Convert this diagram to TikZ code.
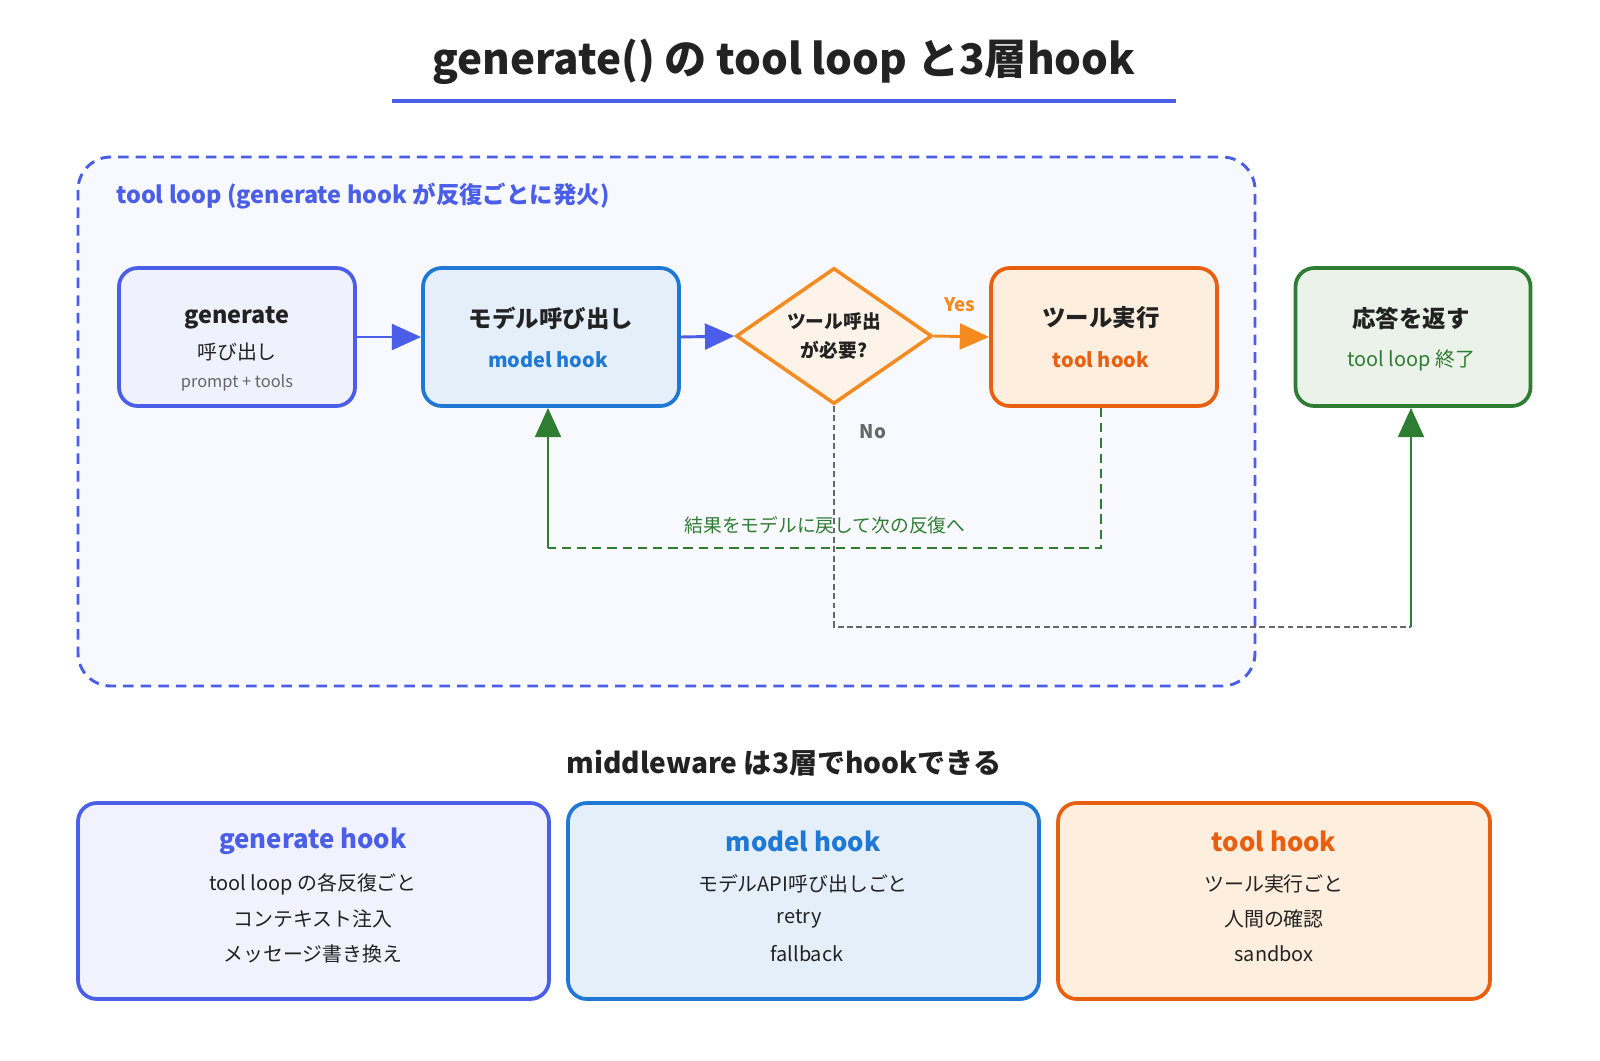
\documentclass[tikz,border=0pt]{standalone}
\usepackage{fontspec}
\setmainfont{Noto Sans CJK JP}
\usetikzlibrary{arrows.meta,shapes.geometric}
\definecolor{cblue}{HTML}{4A5EE8}
\definecolor{cmblue}{HTML}{1E78D4}
\definecolor{corange}{HTML}{F58B1F}
\definecolor{ctool}{HTML}{E8600F}
\definecolor{cgreen}{HTML}{2E7D32}
\definecolor{cdark}{HTML}{222222}
\definecolor{cgray}{HTML}{666666}
\tikzset{
 box/.style={draw,line width=3.2pt,rounded corners=16pt,align=center},
 big/.style={font=\fontsize{20}{24}\selectfont\bfseries,text=cdark},
 sub/.style={font=\fontsize{17}{20}\selectfont},
 small/.style={font=\fontsize{14}{17}\selectfont},
 arr/.style={line width=2.5pt,-{Triangle[length=25pt,width=22pt]}},
}
\begin{document}
\begin{tikzpicture}[x=0.03cm,y=-0.03cm]
\useasboundingbox (0,0) rectangle (1600,1060);
% title
\node[font=\fontsize{36}{40}\selectfont\bfseries,text=cdark] (title) at (784,62) {generate() の tool loop と3層hook};
\draw[cblue,line width=4pt] (392,101) -- (1176,101);
% container
\draw[cblue,dashed,line width=2.5pt,dash pattern=on 9pt off 6pt,fill=cblue!4,rounded corners=28pt] (78,157) rectangle (1255,686);
\node[anchor=west,text=cblue,font=\fontsize{20}{24}\selectfont\bfseries] (lbl) at (112,196) {tool loop (generate hook が反復ごとに発火)};
% nodes
\node[box,draw=cblue,fill=cblue!9,minimum width=236*0.03cm,minimum height=138*0.03cm] (gen) at (237,337) {};
\node[big] at (237,318) {generate};
\node[sub,text=cdark] at (237,352) {呼び出し};
\node[small,text=cgray] at (237,383) {prompt + tools};
\node[box,draw=cmblue,fill=cmblue!12,minimum width=256*0.03cm,minimum height=138*0.03cm] (model) at (551,337) {};
\node[big] at (551,318) {モデル呼び出し};
\node[sub,text=cmblue,font=\fontsize{17}{20}\selectfont\bfseries] at (548,360) {model hook};
\node[diamond,draw=corange,line width=3pt,fill=corange!10,minimum width=196*0.03cm,minimum height=136*0.03cm,inner sep=0pt,aspect=1.44] (dec) at (834,336) {};
\node[align=center,font=\fontsize{16}{24}\selectfont\bfseries,text=cdark] at (834,336) {ツール呼出\\が必要?};
\node[box,draw=ctool,fill=corange!15,minimum width=226*0.03cm,minimum height=138*0.03cm] (tool) at (1104,337) {};
\node[big] at (1101,318) {ツール実行};
\node[text=ctool,font=\fontsize{17}{20}\selectfont\bfseries] at (1101,360) {tool hook};
\node[box,draw=cgreen,fill=cgreen!10,minimum width=235*0.03cm,minimum height=138*0.03cm] (resp) at (1413,337) {};
\node[big] at (1411,318) {応答を返す};
\node[sub,text=cgreen] at (1411,360) {tool loop 終了};
% arrows
\draw[arr,cblue] (gen.east) -- (model.west);
\draw[arr,cblue] (model.east) -- (dec.west);
\draw[arr,corange] (dec.east) -- (tool.west);
\node[text=corange,font=\fontsize{16}{20}\selectfont\bfseries] (yes) at (960,305) {Yes};
\coordinate (nb) at (834,627);
\coordinate (nr) at (1411,627);
\draw[cgray,line width=2pt,dash pattern=on 5pt off 3pt] (dec.south) -- (nb) -- (nr);
\draw[arr,cgreen] (nr) -- (resp.south -| nr);
\node[text=cgray,font=\fontsize{16}{20}\selectfont\bfseries] (no) at (873,432) {No};
\coordinate (t1) at (1101,548);
\coordinate (t2) at (548,548);
\draw[cgreen,line width=2.5pt,dash pattern=on 8pt off 5pt] (tool.south -| t1) -- (t1) -- (t2);
\draw[arr,cgreen] (t2) -- (model.south -| t2);
\node[text=cgreen,font=\fontsize{16}{20}\selectfont] (back) at (825,525) {結果をモデルに戻して次の反復へ};
% bottom
\node[font=\fontsize{24}{28}\selectfont\bfseries,text=cdark] (mw) at (784,763) {middleware は3層でhookできる};
\tikzset{hb/.style={box,minimum height=196*0.03cm}}
\node[hb,draw=cblue,fill=cblue!8,minimum width=471*0.03cm] (h1) at (313.5,901) {};
\node[hb,draw=cmblue,fill=cmblue!12,minimum width=471*0.03cm] (h2) at (803.5,901) {};
\node[hb,draw=ctool,fill=corange!15,minimum width=432*0.03cm] (h3) at (1274,901) {};
\foreach \x/\c/\t/\a/\b/\d in {313/cblue/generate hook/tool loop の各反復ごと/コンテキスト注入/メッセージ書き換え,
  803/cmblue/model hook/モデルAPI呼び出しごと/retry \,/\, fallback/キャッシュ / レイテンシ計測,
  1274/ctool/tool hook/ツール実行ごと/人間の確認/sandbox / ログ}{
 \node[text=\c,font=\fontsize{22}{26}\selectfont\bfseries] at (\x,841) {\t};
 \node[sub,text=cdark] at (\x,884) {\a};
 \node[sub,text=cdark] at (\x,919) {\b};
 \node[sub,text=cdark] at (\x,954) {\d};
}
\end{tikzpicture}
\end{document}
